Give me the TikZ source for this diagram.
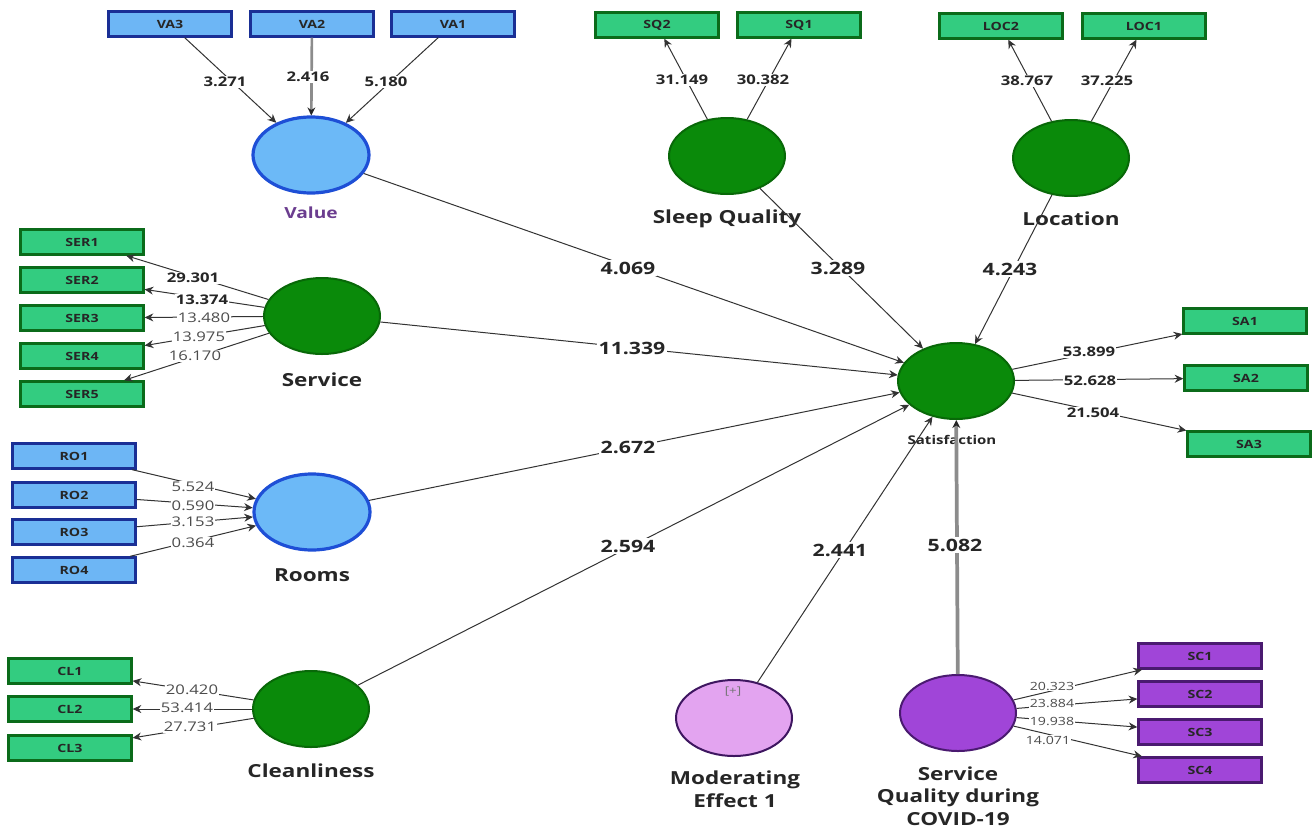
\documentclass[tikz,border=0pt]{standalone}
\usepackage{fontspec}
\setmainfont{Open Sans}[FakeStretch=1.25]
\usetikzlibrary{shapes.geometric,arrows.meta}
\definecolor{gfill}{HTML}{33CC80}
\definecolor{gbord}{HTML}{0B6B1A}
\definecolor{cfill}{HTML}{0A8A0A}
\definecolor{cbord}{HTML}{086808}
\definecolor{bfill}{HTML}{6DB6F5}
\definecolor{bbord}{HTML}{1A2F95}
\definecolor{cbfill}{HTML}{6CB9F7}
\definecolor{cbbord}{HTML}{1E4FD6}
\definecolor{pfill}{HTML}{A045D8}
\definecolor{pbord}{HTML}{4A1A70}
\definecolor{mfill}{HTML}{E3A4F0}
\definecolor{mbord}{HTML}{3E1660}
\definecolor{txt}{HTML}{262626}
\definecolor{valcol}{HTML}{6B3D8F}
\begin{document}
\begin{tikzpicture}[x=0.75pt,y=-0.75pt,
  box/.style={line width=2pt, minimum width=92pt, minimum height=18.5pt, inner sep=0pt,
    font=\bfseries\fontsize{8.5}{10}\selectfont, text=txt},
  greenbox/.style={box, draw=gbord, fill=gfill},
  bluebox/.style={box, draw=bbord, fill=bfill},
  purplebox/.style={box, draw=pbord, fill=pfill},
  lv/.style={ellipse, inner sep=0pt, minimum width=87pt, minimum height=57pt, line width=1.5pt},
  greenlv/.style={lv, draw=cbord, fill=cfill},
  bluelv/.style={lv, draw=cbbord, fill=cbfill, line width=2.4pt},
  purplelv/.style={lv, draw=pbord, fill=pfill},
  modlv/.style={lv, draw=mbord, fill=mfill},
  lvlabel/.style={font=\bfseries\fontsize{13.5}{17}\selectfont, text=txt, align=center},
  tip/.style={-{Stealth[length=6.5pt,width=6pt]}},
  link/.style={draw=black!80, line width=0.75pt, tip},
  thicklink/.style={draw=black!45, line width=2.8pt, -{Stealth[length=6pt,width=6pt,color=black!85]}},
  pval/.style={fill=white, inner sep=1.5pt, font=\bfseries\fontsize{12.75}{14}\selectfont, text=txt},
  ival/.style={fill=white, inner sep=0.6pt, font=\fontsize{10}{11}\selectfont, text=black!70},
  ivalb/.style={ival, font=\bfseries\fontsize{10}{11}\selectfont, text=txt},
]
\path[use as bounding box] (0,0) rectangle (1313,828);

% indicator boxes
\node[bluebox] (VA3) at (170,24) {VA3};
\node[bluebox] (VA2) at (312,24) {VA2};
\node[bluebox] (VA1) at (453,24) {VA1};
\node[greenbox] (SQ2) at (657,25) {SQ2};
\node[greenbox] (SQ1) at (799,25) {SQ1};
\node[greenbox] (LOC2) at (1001,26) {LOC2};
\node[greenbox] (LOC1) at (1144,26) {LOC1};
\node[greenbox] (SER1) at (82,242) {SER1};
\node[greenbox] (SER2) at (82,280) {SER2};
\node[greenbox] (SER3) at (82,318) {SER3};
\node[greenbox] (SER4) at (82,356) {SER4};
\node[greenbox] (SER5) at (82,394) {SER5};
\node[bluebox] (RO1) at (74,456) {RO1};
\node[bluebox] (RO2) at (74,495) {RO2};
\node[bluebox] (RO3) at (74,532) {RO3};
\node[bluebox] (RO4) at (74,570) {RO4};
\node[greenbox] (CL1) at (70,671) {CL1};
\node[greenbox] (CL2) at (70,709) {CL2};
\node[greenbox] (CL3) at (70,748) {CL3};
\node[greenbox] (SA1) at (1245,321) {SA1};
\node[greenbox] (SA2) at (1246,378) {SA2};
\node[greenbox] (SA3) at (1249,444) {SA3};
\node[purplebox] (SC1) at (1200,656) {SC1};
\node[purplebox] (SC2) at (1200,694) {SC2};
\node[purplebox] (SC3) at (1200,732) {SC3};
\node[purplebox] (SC4) at (1200,770) {SC4};

% latent variables
\node[bluelv] (val) at (311,155) {};
\node[greenlv] (slp) at (727,156) {};
\node[greenlv] (loc) at (1071,158) {};
\node[greenlv] (ser) at (322,316) {};
\node[bluelv] (roo) at (312,512) {};
\node[greenlv] (cle) at (311,709) {};
\node[greenlv] (sat) at (956,381) {};
\node[modlv] (mod) at (734,718) {};
\node[purplelv] (cov) at (958,713) {};

% labels of latent variables
\node[font=\bfseries\fontsize{11.5}{13}\selectfont, text=valcol] (tval) at (311,213) {Value};
\node[lvlabel] (tslp) at (727,219) {Sleep Quality};
\node[lvlabel] (tloc) at (1071,219) {Location};
\node[lvlabel] (tser) at (322,380) {Service};
\node[lvlabel] (troo) at (312,575) {Rooms};
\node[lvlabel] (tcle) at (311,771) {Cleanliness};
\node[font=\bfseries\fontsize{9}{10}\selectfont, text=txt] (tsat) at (952,440) {Satisfaction};
\node[lvlabel] (tmod) at (735,789) {Moderating\\Effect 1};
\node[lvlabel] (tcov) at (958,796) {Service\\Quality during\\COVID-19};
\node[font=\fontsize{8}{9}\selectfont, text=black!55] (plus) at (733,692) {[+]};

% measurement links
\draw[link] (VA3) -- (val);
\draw[thicklink, line width=2pt] (VA2) -- (val);
\draw[link] (VA1) -- (val);
\draw[link] (slp) -- (SQ2);
\draw[link] (slp) -- (SQ1);
\draw[link] (loc) -- (LOC2);
\draw[link] (loc) -- (LOC1);
\draw[link] (ser) -- (SER1);
\draw[link] (ser) -- (SER2);
\draw[link] (ser) -- (SER3);
\draw[link] (ser) -- (SER4);
\draw[link] (ser) -- (SER5);
\draw[link] (RO1) -- (roo);
\draw[link] (RO2) -- (roo);
\draw[link] (RO3) -- (roo);
\draw[link] (RO4) -- (roo);
\draw[link] (cle) -- (CL1);
\draw[link] (cle) -- (CL2);
\draw[link] (cle) -- (CL3);
\draw[link] (sat) -- (SA1);
\draw[link] (sat) -- (SA2);
\draw[link] (sat) -- (SA3);
\draw[link] (cov) -- (SC1);
\draw[link] (cov) -- (SC2);
\draw[link] (cov) -- (SC3);
\draw[link] (cov) -- (SC4);

% structural links
\draw[link] (val) -- (sat);
\draw[link] (slp) -- (sat);
\draw[link] (loc) -- (sat);
\draw[link] (ser) -- (sat);
\draw[link] (roo) -- (sat);
\draw[link] (cle) -- (sat);
\draw[link] (mod) -- (sat);
\draw[thicklink] (cov) -- (sat);

% indicator values
\node[ivalb] (v1) at (225,82) {3.271};
\node[ivalb] (v2) at (308,77) {2.416};
\node[ivalb] (v3) at (386,82) {5.180};
\node[ivalb] (q1) at (682,80) {31.149};
\node[ivalb] (q2) at (763,80) {30.382};
\node[ivalb] (o1) at (1027,81) {38.767};
\node[ivalb] (o2) at (1107,81) {37.225};
\node[ivalb] (s1) at (193,278) {29.301};
\node[ivalb] (s2) at (202,300) {13.374};
\node[ival] (s3) at (204,318) {13.480};
\node[ival] (s4) at (199,337) {13.975};
\node[ival] (s5) at (195,356) {16.170};
\node[ival] (r1) at (193,487) {5.524};
\node[ival] (r2) at (193,506) {0.590};
\node[ival] (r3) at (193,522) {3.153};
\node[ival] (r4) at (193,543) {0.364};
\node[ival] (c1) at (192,690) {20.420};
\node[ival] (c2) at (187,708) {53.414};
\node[ival] (c3) at (190,727) {27.731};
\node[ivalb] (a1) at (1089,352) {53.899};
\node[ivalb] (a2) at (1090,381) {52.628};
\node[ivalb] (a3) at (1093,413) {21.504};
\node[ival, font=\fontsize{8.5}{9}\selectfont] (k1) at (1052,686) {20.323};
\node[ival, font=\fontsize{8.5}{9}\selectfont] (k2) at (1052,703) {23.884};
\node[ival, font=\fontsize{8.5}{9}\selectfont] (k3) at (1052,721) {19.938};
\node[ival, font=\fontsize{8.5}{9}\selectfont] (k4) at (1048,740) {14.071};

% path values
\node[pval] (p1) at (628,268) {4.069};
\node[pval] (p2) at (838,268) {3.289};
\node[pval] (p3) at (1010,269) {4.243};
\node[pval] (p4) at (632,348) {11.339};
\node[pval] (p5) at (628,447) {2.672};
\node[pval] (p6) at (628,546) {2.594};
\node[pval] (p7) at (840,550) {2.441};
\node[pval] (p8) at (955,545) {5.082};
\end{tikzpicture}
\end{document}
